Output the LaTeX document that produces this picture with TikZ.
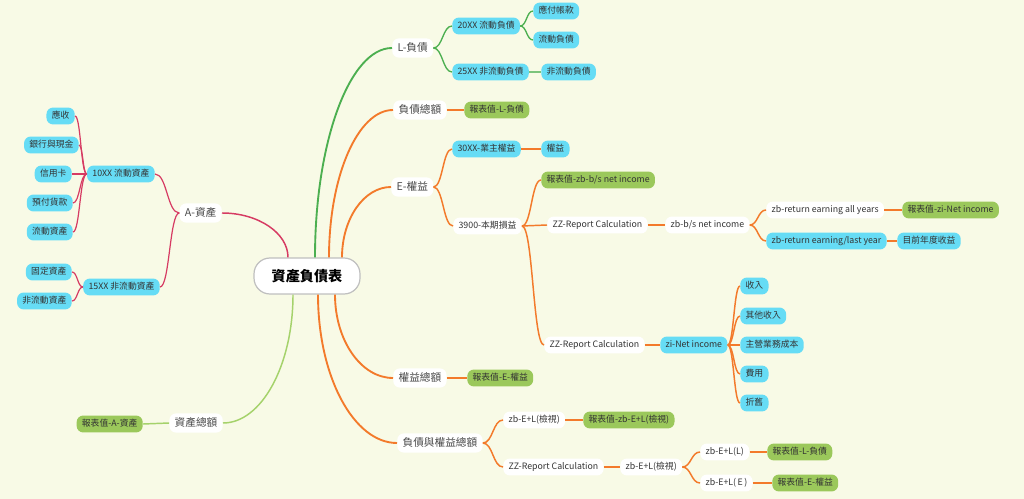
\documentclass[tikz,border=0pt]{standalone}
\usepackage{fontspec}
\setmainfont{Noto Sans CJK TC}
\usetikzlibrary{calc}
\definecolor{bg}{HTML}{F8FAE6}
\definecolor{cy}{HTML}{66DCF5}
\definecolor{grn}{HTML}{9BC85B}
\definecolor{orl}{HTML}{F37A2B}
\definecolor{pkl}{HTML}{D63B63}
\definecolor{dgl}{HTML}{4CAF50}
\definecolor{dgl2}{HTML}{7CC47C}
\definecolor{lgl}{HTML}{A5D26B}
\definecolor{txt}{HTML}{333333}
\definecolor{lvtxt}{HTML}{4A4A4A}
\begin{document}
\begin{tikzpicture}[x=0.75pt,y=0.75pt]
\tikzset{
 base/.style={rounded corners=5pt, inner xsep=4pt, inner ysep=3.2pt, text height=5pt, text depth=1.3pt, font=\fontsize{6.6}{7}\selectfont, text=txt},
 cb/.style={base, fill=cy},
 gb/.style={base, fill=grn},
 wb/.style={base, fill=white},
 lv/.style={rounded corners=5pt, fill=white, inner xsep=4pt, inner ysep=3.4pt, text height=6.1pt, text depth=1.5pt, font=\fontsize{8}{9}\selectfont, text=lvtxt},
 mm/.style={to path={let \p1=(\tikztostart), \p2=(\tikztotarget) in .. controls ({0.5*\x1+0.5*\x2},\y1) and ({0.5*\x1+0.5*\x2},\y2) .. (\p2)}},
 rootlink/.style={to path={let \p1=(\tikztostart), \p2=(\tikztotarget) in .. controls (\x1,{\y1+0.55*(\y2-\y1)}) and ({\x2-0.55*(\x2-\x1)},\y2) .. (\p2)}},
 pk/.style={draw=pkl, line width=0.9pt},
 pkm/.style={draw=pkl, line width=1.1pt},
 org/.style={draw=orl, line width=1.1pt},
 orm/.style={draw=orl, line width=1.4pt},
 dg/.style={draw=dgl, line width=1.4pt},
 dgs/.style={draw=dgl, line width=1pt},
 dgs2/.style={draw=dgl2, line width=1.3pt},
 lg/.style={draw=lgl, line width=1.1pt},
}
\fill[bg] (0,0) rectangle (1024,-499);
\useasboundingbox (0,0) rectangle (1024,-499);

% root
\node[draw=black!25, line width=0.9pt, fill=white, rounded corners=12pt, minimum width=79.5pt, minimum height=27pt, font=\fontsize{10.6}{12}\selectfont\bfseries, text=black] (root) at (307,-276) {資產負債表};

% level 1
\node[lv, anchor=east] (A) at (222,-213) {A-資產};
\node[lv, anchor=east] (AT) at (223,-423) {資產總額};
\node[lv, anchor=west] (L) at (392,-48) {L-負債};
\node[lv, anchor=west] (LT) at (393,-110) {負債總額};
\node[lv, anchor=west] (E) at (391,-187) {E-權益};
\node[lv, anchor=west] (ET) at (393,-378) {權益總額};
\node[lv, anchor=west] (ELT) at (397,-443) {負債與權益總額};

% left: assets
\node[cb, anchor=east] (a10) at (155,-174) {10XX 流動資產};
\node[cb, anchor=east] (a11) at (75,-116) {應收};
\node[cb, anchor=east] (a12) at (79,-145) {銀行與現金};
\node[cb, anchor=east] (a13) at (72,-174) {信用卡};
\node[cb, anchor=east] (a14) at (73,-203) {預付貨款};
\node[cb, anchor=east] (a15) at (73,-232) {流動資產};
\node[cb, anchor=east] (a15x) at (160,-287) {15XX 非流動資產};
\node[cb, anchor=east] (a16) at (72,-272) {固定資產};
\node[cb, anchor=east] (a17) at (72,-301) {非流動資產};
\node[gb, anchor=east] (atv) at (143,-424) {報表值-A-資產};

% liabilities
\node[cb, anchor=west] (l20) at (452,-26) {20XX 流動負債};
\node[cb, anchor=west] (l25) at (452,-72) {25XX 非流動負債};
\node[cb, anchor=west] (l21) at (533,-11) {應付帳款};
\node[cb, anchor=west] (l22) at (533,-40) {流動負債};
\node[cb, anchor=west] (l26) at (541,-72) {非流動負債};
\node[gb, anchor=west] (ltv) at (464,-110) {報表值-L-負債};

% equity
\node[cb, anchor=west] (e30) at (452,-149) {30XX-業主權益};
\node[cb, anchor=west] (e31) at (541,-149) {權益};
\node[wb, anchor=west] (e39) at (453,-226) {3900-本期損益};
\node[gb, anchor=west] (ezb) at (541,-180) {報表值-zb-b/s net income};
\node[wb, anchor=west] (zz1) at (547,-225) {ZZ-Report Calculation};
\node[wb, anchor=west] (zbbs) at (665,-225) {zb-b/s net income};
\node[wb, anchor=west] (zra) at (766,-210) {zb-return earning all years};
\node[gb, anchor=west] (zrav) at (902,-210) {報表值-zi-Net income};
\node[cb, anchor=west] (zrl) at (766,-241) {zb-return earning/last year};
\node[cb, anchor=west] (zrlv) at (897,-241) {目前年度收益};
\node[wb, anchor=west] (zz2) at (544,-345) {ZZ-Report Calculation};
\node[cb, anchor=west] (zin) at (660,-345) {zi-Net income};
\node[cb, anchor=west] (i1) at (740,-286) {收入};
\node[cb, anchor=west] (i2) at (740,-316) {其他收入};
\node[cb, anchor=west] (i3) at (740,-345) {主營業務成本};
\node[cb, anchor=west] (i4) at (740,-374) {費用};
\node[cb, anchor=west] (i5) at (740,-403) {折舊};
\node[gb, anchor=west] (etv) at (467,-378) {報表值-E-權益};

% totals
\node[wb, anchor=west] (el1) at (503,-420) {zb-E+L(檢視)};
\node[gb, anchor=west] (el1v) at (583,-420) {報表值-zb-E+L(檢視)};
\node[wb, anchor=west] (zz3) at (503,-467) {ZZ-Report Calculation};
\node[wb, anchor=west] (el2) at (620,-467) {zb-E+L(檢視)};
\node[wb, anchor=west] (elL) at (700,-452) {zb-E+L(L)};
\node[gb, anchor=west] (elLv) at (767,-452) {報表值-L-負債};
\node[wb, anchor=west] (elE) at (700,-483) {zb-E+L(\,E\,)};
\node[gb, anchor=west] (elEv) at (772,-483) {報表值-E-權益};

% root anchor points
\coordinate (rA) at ($(root.north)+(-19,0)$);
\coordinate (rL) at ($(root.north)+(8,0)$);
\coordinate (rLT) at ($(root.north)+(22,0)$);
\coordinate (rE) at ($(root.north)+(35,0)$);
\coordinate (rAT) at ($(root.south)+(-14,0)$);
\coordinate (rELT) at ($(root.south)+(11,0)$);
\coordinate (rET) at ($(root.south)+(28,0)$);

% root links
\draw[pkm] (rA) to[rootlink] (A.east);
\draw[dg] (rL) to[rootlink] (L.west);
\draw[orm] (rLT) to[rootlink] (LT.west);
\draw[orm] (rE) to[rootlink] (E.west);
\draw[lg] (rAT) to[rootlink] (AT.east);
\draw[orm] (rELT) to[rootlink] (ELT.west);
\draw[orm] (rET) to[rootlink] (ET.west);

% asset links
\draw[pk] (A.west) to[mm] (a10.east);
\draw[pk] (A.west) to[mm] (a15x.east);
\foreach \c in {a11,a12,a13,a14,a15} \draw[pk] (a10.west) to[mm] (\c.east);
\foreach \c in {a16,a17} \draw[pk] (a15x.west) to[mm] (\c.east);
\draw[lg] (AT.west) to[mm] (atv.east);

% liabilities links
\draw[dgs] (L.east) to[mm] (l20.west);
\draw[dgs] (L.east) to[mm] (l25.west);
\draw[dgs] (l20.east) to[mm] (l21.west);
\draw[dgs] (l20.east) to[mm] (l22.west);
\draw[dgs2] (l25.east) to[mm] (l26.west);
\draw[org] (LT.east) to[mm] (ltv.west);

% equity links
\draw[org] (E.east) to[mm] (e30.west);
\draw[org] (E.east) to[mm] (e39.west);
\draw[org] (e30.east) to[mm] (e31.west);
\draw[org] (e39.east) to[mm] (ezb.west);
\draw[org] (e39.east) to[mm] (zz1.west);
\draw[org] (e39.east) to[mm] (zz2.west);
\draw[org] (zz1.east) to[mm] (zbbs.west);
\draw[org] (zbbs.east) to[mm] (zra.west);
\draw[org] (zbbs.east) to[mm] (zrl.west);
\draw[org] (zra.east) to[mm] (zrav.west);
\draw[org] (zrl.east) to[mm] (zrlv.west);
\draw[org] (zz2.east) to[mm] (zin.west);
\foreach \c in {i1,i2,i3,i4,i5} \draw[org] (zin.east) to[mm] (\c.west);
\draw[org] (ET.east) to[mm] (etv.west);

% total links
\draw[org] (ELT.east) to[mm] (el1.west);
\draw[org] (ELT.east) to[mm] (zz3.west);
\draw[org] (el1.east) to[mm] (el1v.west);
\draw[org] (zz3.east) to[mm] (el2.west);
\draw[org] (el2.east) to[mm] (elL.west);
\draw[org] (el2.east) to[mm] (elE.west);
\draw[org] (elL.east) to[mm] (elLv.west);
\draw[org] (elE.east) to[mm] (elEv.west);
\end{tikzpicture}
\end{document}
